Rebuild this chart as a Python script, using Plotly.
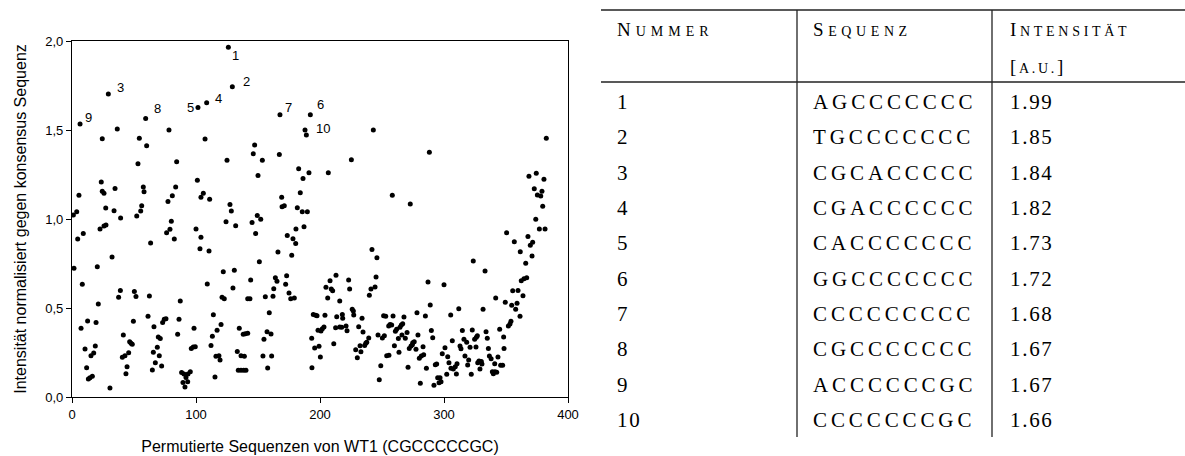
import plotly.graph_objects as go

# ---- scatter data: permuted WT1 sequences, normalised intensity ----
seq_index = [
    1.1, 3.8, 5.6, 24.4, 36.5, 23.6, 24.4, 25.8, 27.2, 34.7, 33.9, 39.2,
    54.3, 60.2, 53.2, 57.5, 58.1, 56.2, 55.4, 52.2, 78.2, 84.4, 83.6, 80.9,
    77.4, 80.1, 101.1,
    187.9, 243.0, 107.3, 147.3, 146.2, 153.5, 167.2, 125.0, 225.3, 150.0,
    182.8, 191.1, 186.3, 206.7, 105.9, 104.0, 111.0, 169.1, 184.1, 127.4,
    128.5, 169.4, 171.2, 181.7, 185.7, 189.8, 124.2, 132.0, 145.2, 149.4,
    152.2, 100.0, 180.6, 187.1,
    288.2, 382.5, 258.3, 272.8, 368.5, 374.4, 380.6, 372.8, 379.0, 375.3,
    378.0, 379.6, 374.0, 376.9, 381.5,
    1.6, 4.6, 9.1, 8.3, 7.3, 12.6, 10.5, 11.8, 13.2, 14.5, 16.4, 15.3, 17.5,
    18.8, 19.4, 21.2, 20.4, 22.6, 25.8, 27.4, 32.3, 30.6, 37.6, 39.0, 41.4,
    40.6, 42.7, 44.4, 43.5, 45.7, 46.5, 47.6, 48.6, 49.5, 50.3, 51.6, 62.4,
    61.3, 63.4, 64.8, 65.6, 66.1, 67.2, 68.8, 69.6, 71.2, 70.4, 72.3, 73.1,
    74.4, 75.8, 76.3, 79.0, 82.5, 85.2, 86.3, 87.3,
    88.4, 90.3, 91.9, 93.5, 95.4, 89.5, 91.1, 93.3,
    96.2, 97.8, 99.4, 98.4,
    104.0, 103.2, 110.5, 148.1, 151.1, 122.0, 130.9, 109.1, 121.0, 122.8,
    129.8, 144.1, 141.7, 143.5, 155.9, 162.1, 162.7, 164.0, 165.3, 166.1,
    173.1, 172.3, 175.0, 176.4, 179.3, 177.2, 173.6, 178.2, 180.4, 114.0,
    120.2, 113.2, 117.0, 112.1, 116.1, 118.5, 119.4, 115.3, 134.9, 138.1,
    139.8, 141.7, 133.3, 136.3, 139.0, 134.1, 136.3, 138.5, 140.3, 154.8,
    157.3, 160.5, 159.1, 154.0, 161.0, 157.8,
    193.5, 193.3, 194.6, 196.5, 197.6, 195.7, 199.2, 200.3, 198.4, 200.8,
    201.9, 203.2, 204.0, 204.8, 206.2, 208.1, 209.1, 210.2, 212.9, 213.5,
    211.1, 215.9, 212.6, 215.9, 217.5, 218.0, 218.3, 221.0, 221.8, 223.1,
    223.9, 226.0, 226.9, 227.2, 228.8, 230.1, 231.2, 232.3, 233.0, 233.9,
    234.7, 236.0, 236.9, 237.7, 239.3, 239.8, 241.1, 244.4, 245.2, 241.9,
    245.9, 246.8, 250.3, 251.9, 249.0, 247.8, 251.3, 253.0, 255.4, 253.8,
    255.6,
    256.5, 257.8, 258.9, 260.0, 260.8, 261.8, 263.2, 263.7, 264.5, 265.6,
    266.7, 266.1, 267.7, 268.8, 270.2, 271.0, 272.0, 273.4, 274.8, 276.0,
    274.5, 277.4, 278.2, 279.0, 280.9, 280.1, 281.7, 283.6, 283.1, 285.0,
    285.8, 287.1, 288.9, 289.8, 290.9, 291.9, 293.0, 294.1, 294.9, 296.8,
    296.0, 297.6, 298.6, 300.0, 300.8, 302.2, 303.0, 304.0, 305.4, 305.6,
    307.5, 309.1, 310.5, 306.7, 310.0, 311.9, 312.9, 313.7, 314.8, 316.1,
    316.9, 318.3, 319.1, 319.9, 321.0, 322.0, 322.8, 323.6, 324.7, 326.1,
    326.9, 325.8, 327.2, 328.2, 329.0, 330.1, 330.6, 331.5, 333.1, 333.9,
    334.9, 335.8, 336.6, 338.0, 339.0, 339.8, 341.1, 342.5, 340.9, 341.7,
    343.5, 344.9, 345.7, 347.3, 348.1, 348.4, 349.4, 350.5, 351.9, 353.2,
    354.0, 354.6, 355.4, 356.7, 357.8, 358.9, 359.7, 361.3, 361.5, 362.3,
    363.7, 364.5, 366.7, 365.9, 367.7, 369.6, 371.5, 371.0,
]
intensity = [
    1.022, 1.041, 1.133, 1.451, 1.506, 1.208, 1.156, 1.144, 1.062, 1.172, 1.047, 1.006,
    1.453, 1.412, 1.311, 1.180, 1.153, 1.075, 1.045, 1.017, 1.500, 1.322, 1.180, 1.131,
    1.099, 0.987, 1.217,
    1.500, 1.500, 1.449, 1.416, 1.367, 1.330, 1.363, 1.330, 1.333, 1.245,
    1.283, 1.260, 1.227, 1.260, 1.144, 1.122, 1.111, 1.122, 1.148, 1.082,
    1.045, 1.069, 1.075, 1.063, 1.041, 1.041, 0.985, 0.962, 0.981, 1.019,
    0.998, 0.944, 0.944, 0.957,
    1.375, 1.453, 1.133, 1.084, 1.240, 1.257, 1.223, 1.170, 1.156, 1.135,
    1.129, 1.071, 0.998, 0.944, 0.944,
    0.723, 0.888, 0.918, 0.633, 0.386, 0.427, 0.270, 0.165, 0.101, 0.108, 0.116, 0.232, 0.247,
    0.287, 0.418, 0.522, 0.732, 0.944, 0.961, 0.966, 0.787, 0.051, 0.560, 0.599, 0.348,
    0.223, 0.232, 0.170, 0.131, 0.249, 0.311, 0.302, 0.296, 0.425, 0.592, 0.564, 0.567,
    0.453, 0.865, 0.152, 0.251, 0.395, 0.193, 0.279, 0.337, 0.328, 0.232, 0.174, 0.418,
    0.437, 0.440, 0.923, 0.942, 0.888, 0.352, 0.437, 0.539,
    0.137, 0.129, 0.110, 0.129, 0.142, 0.082, 0.056, 0.086,
    0.273, 0.281, 0.283, 0.386,
    0.897, 0.833, 0.820, 0.918, 0.760, 0.704, 0.712, 0.635, 0.560, 0.552,
    0.612, 0.657, 0.552, 0.552, 0.563, 0.566, 0.608, 0.670, 0.650, 0.815,
    0.681, 0.633, 0.584, 0.552, 0.556, 0.796, 0.908, 0.889, 0.863, 0.462,
    0.408, 0.341, 0.375, 0.290, 0.229, 0.232, 0.208, 0.112, 0.386, 0.352,
    0.356, 0.358, 0.255, 0.232, 0.229, 0.150, 0.150, 0.150, 0.150, 0.324,
    0.367, 0.354, 0.474, 0.230, 0.230, 0.163,
    0.165, 0.330, 0.464, 0.459, 0.457, 0.275, 0.285, 0.225, 0.375, 0.371,
    0.384, 0.393, 0.459, 0.616, 0.556, 0.653, 0.607, 0.597, 0.684, 0.451,
    0.299, 0.539, 0.389, 0.393, 0.392, 0.464, 0.442, 0.399, 0.372, 0.657,
    0.607, 0.493, 0.483, 0.461, 0.266, 0.221, 0.395, 0.288, 0.254, 0.442,
    0.365, 0.290, 0.302, 0.307, 0.331, 0.571, 0.607, 0.618, 0.674, 0.828,
    0.783, 0.348, 0.331, 0.344, 0.176, 0.097, 0.457, 0.453, 0.399, 0.232,
    0.234,
    0.408, 0.404, 0.455, 0.288, 0.369, 0.380, 0.328, 0.251, 0.392, 0.404,
    0.412, 0.348, 0.449, 0.330, 0.363, 0.167, 0.273, 0.287, 0.305, 0.311,
    0.294, 0.268, 0.474, 0.348, 0.077, 0.217, 0.230, 0.238, 0.283, 0.455,
    0.161, 0.646, 0.517, 0.373, 0.333, 0.066, 0.181, 0.185, 0.108, 0.108,
    0.080, 0.086, 0.243, 0.631, 0.277, 0.128, 0.226, 0.193, 0.461, 0.161,
    0.157, 0.170, 0.187, 0.316, 0.129, 0.496, 0.287, 0.271, 0.373, 0.324,
    0.230, 0.307, 0.180, 0.208, 0.279, 0.128, 0.376, 0.764, 0.324, 0.335,
    0.344, 0.281, 0.193, 0.202, 0.157, 0.200, 0.185, 0.493, 0.708, 0.367,
    0.330, 0.273, 0.230, 0.215, 0.142, 0.131, 0.142, 0.139, 0.187, 0.556,
    0.225, 0.380, 0.178, 0.178, 0.337, 0.273, 0.532, 0.923, 0.399, 0.410,
    0.425, 0.515, 0.597, 0.872, 0.493, 0.526, 0.599, 0.453, 0.816, 0.653,
    0.569, 0.665, 0.670, 0.751, 0.901, 0.852, 0.869, 0.792,
]

# ten strongest sequences, marked with their rank
top_rank = ["1", "2", "3", "4", "5", "6", "7", "8", "9", "10"]
top_x = [126.1, 129.3, 29.3, 108.6, 101.6, 192.2, 167.7, 59.4, 6.5, 189.0]
top_y = [1.965, 1.743, 1.702, 1.653, 1.627, 1.586, 1.586, 1.564, 1.534, 1.472]
# label offsets (px) relative to each marker
top_dx = [7, 14, 12, 12, -7, 10, 9, 12, 8, 17]
top_dy = [-8, 5, 7, 4, 0, 10, 7, 10, 6, 6]

# ---- table data ----
tab_nummer = ["1", "2", "3", "4", "5", "6", "7", "8", "9", "10"]
tab_sequenz = ["AGCCCCCCC", "TGCCCCCCC", "CGCACCCCC", "CGACCCCCC", "CACCCCCCC",
               "GGCCCCCCC", "CCCCCCCCC", "CGCCCCCCC", "ACCCCCCGC", "CCCCCCCGC"]
tab_intensitaet = ["1.99", "1.85", "1.84", "1.82", "1.73",
                   "1.72", "1.68", "1.67", "1.67", "1.66"]

W, H = 1185, 456
PL, PR, PT, PB = 72, 568, 41, 397  # plot area in pixels


def px_x(p):
    return (p - PL) / (PR - PL)


def px_y(p):
    return (PB - p) / (PB - PT)


sans = "Liberation Sans"
serif = "Liberation Serif"

fig = go.Figure()
fig.add_trace(go.Scatter(
    x=seq_index + top_x, y=intensity + top_y, mode="markers",
    marker=dict(color="black", size=5, line=dict(width=0)),
    showlegend=False, hoverinfo="x+y",
))

annotations = []
for r, x, y, dx, dy in zip(top_rank, top_x, top_y, top_dx, top_dy):
    annotations.append(dict(
        x=x, y=y, xref="x", yref="y", text=r, showarrow=False,
        xshift=dx, yshift=dy, font=dict(family=sans, size=13, color="black"),
    ))


def table_text(text, left_px, center_px, size=21, spacing=2.0):
    return dict(
        x=px_x(left_px), y=px_y(center_px), xref="paper", yref="paper",
        text=f"<span style='letter-spacing:{spacing}px'>{text}</span>",
        showarrow=False, xanchor="left", yanchor="middle",
        font=dict(family=serif, size=size, color="black"),
    )


def small_caps(word, small=14):
    return (word[0] + f"<span style='font-size:{small}px'>"
            + word[1:].upper() + "</span>")


COL_X = [615, 811, 1008]
annotations.append(table_text(small_caps("Nummer"), COL_X[0], 30, size=19, spacing=5.0))
annotations.append(table_text(small_caps("Sequenz"), COL_X[1], 30, size=19, spacing=4.6))
annotations.append(table_text(small_caps("Intensität"), COL_X[2], 30, size=19, spacing=3.7))
annotations.append(table_text("[" + "<span style='font-size:14px'>A.U.</span>" + "]",
                              COL_X[2], 67, size=19, spacing=2.7))

ROW0, ROW_STEP = 102, 35.35
for i, (n, s, v) in enumerate(zip(tab_nummer, tab_sequenz, tab_intensitaet)):
    yc = ROW0 + i * ROW_STEP
    annotations.append(table_text(n, COL_X[0], yc, spacing=1.7))
    annotations.append(table_text(s, COL_X[1], yc, spacing=3.9))
    annotations.append(table_text(v, COL_X[2], yc, spacing=1.7))

line_style = dict(color="#222222", width=1.3)
shapes = [
    dict(type="line", xref="paper", yref="paper", x0=px_x(601), x1=px_x(1185),
         y0=px_y(10), y1=px_y(10), line=line_style),
    dict(type="line", xref="paper", yref="paper", x0=px_x(601), x1=px_x(1185),
         y0=px_y(82), y1=px_y(82), line=line_style),
    dict(type="line", xref="paper", yref="paper", x0=px_x(797), x1=px_x(797),
         y0=px_y(10), y1=px_y(437), line=line_style),
    dict(type="line", xref="paper", yref="paper", x0=px_x(992), x1=px_x(992),
         y0=px_y(10), y1=px_y(437), line=line_style),
]

fig.update_layout(
    width=W, height=H,
    margin=dict(l=PL, r=W - PR, t=PT, b=H - PB, autoexpand=False),
    paper_bgcolor="white", plot_bgcolor="white",
    separators=", ",
    annotations=annotations, shapes=shapes,
    font=dict(family=sans, color="black"),
)
fig.update_xaxes(
    range=[0, 400], tickvals=[0, 100, 200, 300, 400],
    ticks="outside", ticklen=5, tickwidth=1.2, tickcolor="black",
    showline=True, linecolor="black", linewidth=1.3, mirror=True,
    showgrid=False, zeroline=False, automargin=False,
    tickfont=dict(family=sans, size=13, color="black"),
    title=dict(text="Permutierte Sequenzen von WT1 (CGCCCCCGC)",
               font=dict(family=sans, size=16, color="black"), standoff=20),
)
fig.update_yaxes(
    range=[0, 2], tickvals=[0, 0.5, 1.0, 1.5, 2.0], tickformat=".1f",
    ticks="outside", ticklen=5, tickwidth=1.2, tickcolor="black",
    showline=True, linecolor="black", linewidth=1.3, mirror=True,
    showgrid=False, zeroline=False, automargin=False,
    tickfont=dict(family=sans, size=13, color="black"),
    title=dict(text="Intensität normalisiert gegen konsensus Sequenz",
               font=dict(family=sans, size=16, color="black"), standoff=14),
)

fig.write_html("out.html")
